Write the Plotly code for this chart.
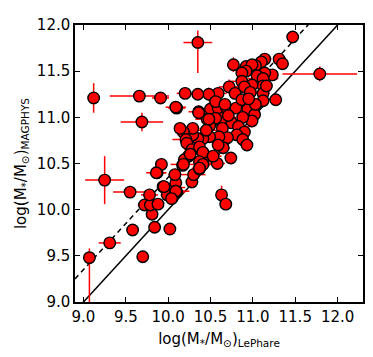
import plotly.graph_objects as go

# log stellar masses: LePhare (x) vs MAGPHYS (y)
m_lephare = [
    9.07, 9.31, 9.70, 9.58, 9.84, 10.02, 9.81, 9.72, 9.79, 9.88,
    9.78, 9.55, 9.25, 9.94, 10.01, 9.99, 10.05, 10.10, 10.08, 10.09,
    10.08, 9.87, 9.92, 10.28, 10.30, 10.37, 10.41, 10.17, 10.58, 10.63,
    10.68, 10.74, 10.10, 10.36, 10.50, 10.59, 10.69, 10.80, 10.94, 11.02,
    10.99, 10.88, 10.75, 10.64, 10.56, 10.46, 10.49, 10.64, 10.83, 10.90,
    10.81, 10.88, 10.93, 10.70, 10.60, 10.65, 10.59, 10.49, 10.41, 10.35,
    10.29, 10.29, 10.18, 10.14, 10.21, 10.22, 10.28, 10.37, 10.41, 10.24,
    10.19, 10.18, 10.37, 10.41, 10.37, 10.09, 9.86, 9.95, 10.09, 10.04,
    10.35, 11.47, 11.31, 11.35, 11.14, 11.10, 11.03, 10.77, 10.92, 10.99,
    11.23, 11.14, 10.92, 10.87, 11.05, 10.87, 11.12, 11.12, 10.99, 10.90,
    10.72, 11.12, 11.27, 11.12, 10.97, 10.79, 10.59, 10.48, 10.35, 10.20,
    9.91, 10.09, 10.56, 10.67, 10.87, 11.03, 10.36, 10.48, 9.12, 9.66,
    9.69, 11.79, 11.16, 10.53, 10.26, 10.45, 10.71, 10.95,
]
m_magphys = [
    9.48, 9.64, 9.49, 9.78, 9.81, 9.79, 9.95, 10.05, 10.05, 10.06,
    10.16, 10.19, 10.32, 10.25, 10.22, 10.16, 10.13, 10.19, 10.24, 10.29,
    10.38, 10.40, 10.49, 10.30, 10.38, 10.44, 10.52, 10.48, 10.50, 10.16,
    10.06, 10.56, 11.10, 11.06, 11.09, 11.10, 11.10, 11.10, 11.09, 11.03,
    10.96, 11.00, 10.94, 10.99, 10.99, 10.98, 10.91, 10.88, 10.90, 10.84,
    10.81, 10.76, 10.70, 10.78, 10.79, 10.67, 10.70, 10.79, 10.77, 10.77,
    10.81, 10.88, 10.84, 10.88, 10.76, 10.72, 10.65, 10.68, 10.62, 10.58,
    10.54, 10.49, 10.52, 10.49, 10.45, 10.20, 10.40, 10.25, 10.20, 10.12,
    11.81, 11.87, 11.63, 11.58, 11.63, 11.60, 11.56, 11.57, 11.55, 11.57,
    11.46, 11.48, 11.50, 11.48, 11.45, 11.39, 11.42, 11.34, 11.35, 11.33,
    11.33, 11.26, 11.19, 11.18, 11.27, 11.26, 11.26, 11.25, 11.25, 11.26,
    11.21, 11.11, 11.17, 11.14, 11.19, 11.14, 11.05, 10.98, 11.21, 11.23,
    10.95, 11.47, 11.34, 10.58, 10.60, 10.86, 11.02, 11.20,
]
err_lephare = [
    0.04, 0.13, 0.03, 0.04, 0.05, 0.07, 0.04, 0.08, 0.06, 0.05,
    0.10, 0.20, 0.23, 0.06, 0.09, 0.08, 0.05, 0.10, 0.12, 0.06,
    0.08, 0.10, 0.05, 0.05, 0.14, 0.08, 0.10, 0.06, 0.09, 0.05,
    0.04, 0.05, 0.10, 0.12, 0.08, 0.06, 0.10, 0.05, 0.09, 0.07,
    0.05, 0.12, 0.06, 0.08, 0.10, 0.14, 0.07, 0.05, 0.16, 0.06,
    0.08, 0.05, 0.07, 0.06, 0.10, 0.08, 0.05, 0.09, 0.06, 0.12,
    0.18, 0.08, 0.10, 0.06, 0.16, 0.07, 0.09, 0.05, 0.20, 0.08,
    0.06, 0.15, 0.07, 0.10, 0.09, 0.16, 0.12, 0.08, 0.10, 0.06,
    0.17, 0.04, 0.06, 0.05, 0.08, 0.06, 0.10, 0.05, 0.12, 0.07,
    0.06, 0.09, 0.10, 0.07, 0.05, 0.14, 0.18, 0.06, 0.08, 0.10,
    0.12, 0.08, 0.05, 0.06, 0.09, 0.07, 0.10, 0.06, 0.08, 0.10,
    0.10, 0.12, 0.08, 0.06, 0.05, 0.09, 0.07, 0.06, 0.04, 0.35,
    0.25, 0.44, 0.06, 0.10, 0.08, 0.12, 0.06, 0.10,
]
err_magphys_up = [
    0.10, 0.02, 0.03, 0.03, 0.04, 0.03, 0.05, 0.03, 0.04, 0.05,
    0.03, 0.04, 0.26, 0.03, 0.04, 0.06, 0.03, 0.04, 0.03, 0.06,
    0.05, 0.04, 0.03, 0.04, 0.06, 0.03, 0.05, 0.04, 0.03, 0.10,
    0.04, 0.03, 0.04, 0.07, 0.03, 0.05, 0.04, 0.03, 0.06, 0.03,
    0.04, 0.05, 0.03, 0.06, 0.04, 0.03, 0.08, 0.04, 0.03, 0.05,
    0.06, 0.03, 0.04, 0.05, 0.03, 0.07, 0.04, 0.03, 0.05, 0.04,
    0.06, 0.03, 0.05, 0.04, 0.03, 0.06, 0.04, 0.03, 0.05, 0.08,
    0.04, 0.03, 0.05, 0.04, 0.03, 0.06, 0.05, 0.04, 0.07, 0.03,
    0.13, 0.03, 0.04, 0.03, 0.05, 0.04, 0.03, 0.08, 0.04, 0.03,
    0.05, 0.04, 0.06, 0.03, 0.04, 0.05, 0.03, 0.04, 0.06, 0.03,
    0.08, 0.04, 0.03, 0.05, 0.04, 0.06, 0.03, 0.07, 0.05, 0.04,
    0.03, 0.04, 0.05, 0.03, 0.06, 0.04, 0.05, 0.03, 0.16, 0.05,
    0.10, 0.08, 0.04, 0.03, 0.05, 0.04, 0.03, 0.05,
]
err_magphys_down = list(err_magphys_up)
err_magphys_down[0] = 0.60
err_magphys_down[80] = 0.33

x_range = [8.9, 12.3]
y_range = [9.0, 12.0]
offset_dashed = 0.35

fig = go.Figure()

# one-to-one relation and the offset relation
fig.add_trace(go.Scatter(
    x=x_range, y=x_range, mode='lines',
    line=dict(color='black', width=1.5), hoverinfo='skip'
))
fig.add_trace(go.Scatter(
    x=x_range, y=[v + offset_dashed for v in x_range], mode='lines',
    line=dict(color='black', width=1.5, dash='5px,4px'), hoverinfo='skip'
))

fig.add_trace(go.Scatter(
    x=m_lephare, y=m_magphys, mode='markers',
    marker=dict(size=11.5, color='#ff0000', line=dict(color='black', width=1.4)),
    error_x=dict(type='data', array=err_lephare, color='#ff0000', thickness=1.5, width=0),
    error_y=dict(type='data', array=err_magphys_up, arrayminus=err_magphys_down,
                 symmetric=False, color='#ff0000', thickness=1.5, width=0),
))

axis_common = dict(
    showgrid=False, zeroline=False, showline=True, linecolor='black', linewidth=1.5,
    mirror='allticks', ticks='inside', ticklen=5, tickwidth=1.2, tickcolor='black',
    tickfont=dict(family='DejaVu Sans', size=15, color='black'),
    dtick=0.5, tickformat='.1f',
)

# the page body adds an 8px margin, so margins are shifted to compensate
fig.update_layout(
    width=373, height=357,
    margin=dict(l=67, r=18, t=8, b=63),
    paper_bgcolor='white', plot_bgcolor='white',
    showlegend=False,
    font=dict(family='DejaVu Sans', color='black'),
    xaxis=dict(
        range=x_range, tick0=9.0,
        title=dict(text='log(M<sub>*</sub>/M<sub>⊙</sub>)<sub>LePhare</sub>',
                   font=dict(size=15), standoff=9),
        **axis_common
    ),
    yaxis=dict(
        range=y_range, tick0=9.0,
        title=dict(text='log(M<sub>*</sub>/M<sub>⊙</sub>)<sub>MAGPHYS</sub>',
                   font=dict(size=15), standoff=7),
        **axis_common
    ),
)

fig.write_html("out.html")
